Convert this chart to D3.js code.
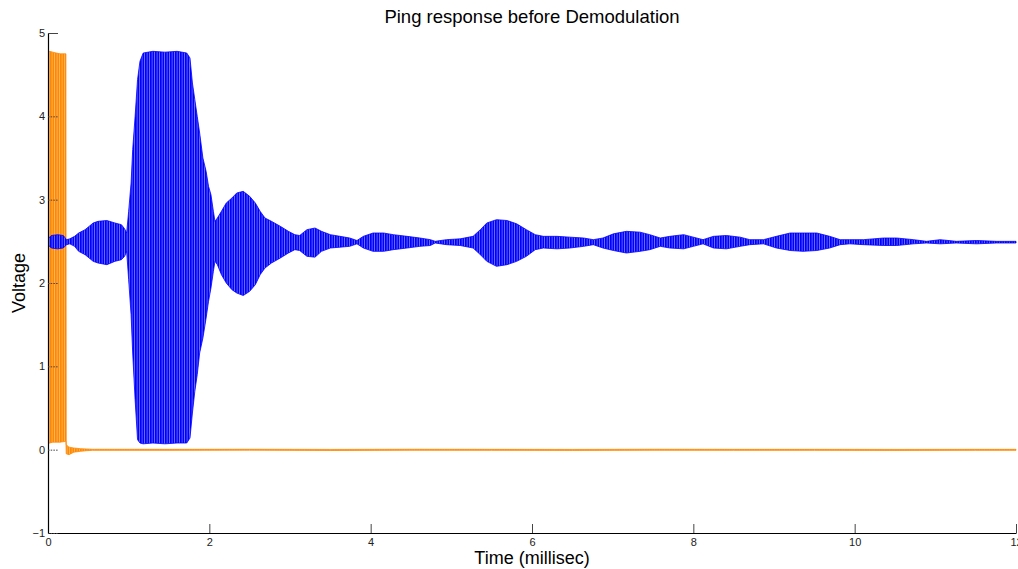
<!DOCTYPE html>
<html>
<head>
<meta charset="utf-8">
<script src="https://cdn.jsdelivr.net/npm/d3@7"></script>
<style>
  body { margin: 0; background: #fff; }
  text { font-family: "Liberation Sans", Arial, Helvetica, sans-serif; }
</style>
</head>
<body>
<svg width="1018" height="569"></svg>
<script>
// Envelope of the received echo (blue): time (ms), upper, lower (V)
var echoTime = [0.00, 0.04, 0.12, 0.19, 0.23, 0.27, 0.33, 0.38, 0.46, 0.56, 0.62, 0.73, 0.83, 0.91, 0.95, 0.975,
  1.00, 1.03, 1.05, 1.08, 1.11, 1.14, 1.18, 1.30, 1.45, 1.60, 1.72, 1.76, 1.79, 1.82, 1.85, 1.88, 1.92, 1.96, 1.99,
  2.02, 2.05, 2.07, 2.10, 2.15, 2.21, 2.28, 2.34, 2.42, 2.50, 2.57, 2.63, 2.69, 2.77, 2.88, 2.98, 3.06, 3.12, 3.21,
  3.31, 3.39, 3.50, 3.62, 3.74, 3.83, 3.91, 4.03, 4.16, 4.28, 4.45, 4.61, 4.74, 4.80, 4.94, 5.11, 5.27, 5.36, 5.44,
  5.56, 5.69, 5.81, 5.93, 6.04, 6.14, 6.31, 6.47, 6.64, 6.76, 6.88, 7.01, 7.17, 7.34, 7.46, 7.59, 7.71, 7.88, 8.00,
  8.12, 8.25, 8.41, 8.58, 8.70, 8.87, 9.03, 9.20, 9.36, 9.53, 9.69, 9.82, 9.94, 10.11, 10.36, 10.52, 10.73, 10.89,
  11.06, 11.26, 11.51, 11.76, 12.00];
var echoUpper = [2.53, 2.57, 2.58, 2.57, 2.52, 2.53, 2.56, 2.60, 2.64, 2.72, 2.74, 2.75, 2.72, 2.70, 2.65, 2.60,
  2.86, 3.20, 3.60, 4.00, 4.44, 4.66, 4.76, 4.78, 4.77, 4.78, 4.76, 4.70, 4.40, 4.20, 4.00, 3.80, 3.50, 3.34, 3.16,
  3.06, 2.86, 2.74, 2.78, 2.86, 2.96, 3.02, 3.08, 3.10, 3.04, 2.96, 2.86, 2.78, 2.74, 2.68, 2.62, 2.58, 2.57, 2.64,
  2.66, 2.62, 2.58, 2.56, 2.54, 2.51, 2.56, 2.60, 2.60, 2.58, 2.56, 2.54, 2.52, 2.50, 2.52, 2.53, 2.56, 2.64, 2.72,
  2.76, 2.75, 2.71, 2.64, 2.58, 2.56, 2.56, 2.55, 2.54, 2.52, 2.54, 2.59, 2.62, 2.61, 2.58, 2.54, 2.56, 2.58, 2.55,
  2.52, 2.56, 2.57, 2.55, 2.52, 2.52, 2.56, 2.60, 2.60, 2.60, 2.56, 2.52, 2.52, 2.52, 2.54, 2.54, 2.52, 2.50,
  2.52, 2.50, 2.51, 2.50, 2.50];
var echoLower = [2.46, 2.42, 2.41, 2.42, 2.46, 2.47, 2.44, 2.38, 2.34, 2.26, 2.24, 2.22, 2.26, 2.28, 2.32, 2.38,
  2.04, 1.62, 1.16, 0.60, 0.12, 0.08, 0.07, 0.08, 0.07, 0.08, 0.08, 0.14, 0.44, 0.70, 0.90, 1.16, 1.34, 1.58, 1.78,
  1.94, 2.14, 2.26, 2.22, 2.10, 2.00, 1.92, 1.88, 1.85, 1.90, 1.98, 2.10, 2.18, 2.24, 2.30, 2.36, 2.40, 2.39, 2.32,
  2.31, 2.38, 2.42, 2.43, 2.44, 2.47, 2.42, 2.38, 2.38, 2.40, 2.42, 2.44, 2.45, 2.48, 2.46, 2.45, 2.42, 2.34, 2.26,
  2.20, 2.22, 2.26, 2.32, 2.40, 2.42, 2.41, 2.42, 2.44, 2.46, 2.42, 2.39, 2.36, 2.38, 2.40, 2.44, 2.42, 2.41, 2.44,
  2.47, 2.42, 2.41, 2.44, 2.46, 2.47, 2.42, 2.39, 2.38, 2.39, 2.42, 2.46, 2.47, 2.46, 2.45, 2.45, 2.47, 2.48,
  2.47, 2.48, 2.47, 2.48, 2.48];

// Transmitted ping (orange): burst, ringing, then flat
var pingTime  = [0.00, 0.02, 0.06, 0.10, 0.15, 0.222, 0.226, 0.26, 0.32, 0.40, 0.48, 0.55, 1.5, 2.5, 3.5, 4.5, 5.5,
  6.5, 7.5, 8.5, 9.5, 10.5, 11.5, 12.0];
var pingUpper = [4.76, 4.78, 4.77, 4.76, 4.75, 4.75, 0.06, 0.03, 0.02, 0.012, 0.008, 0.005, 0.004, 0.005, 0.003,
  0.005, 0.004, 0.003, 0.005, 0.004, 0.004, 0.003, 0.004, 0.004];
var pingLower = [0.07, 0.08, 0.09, 0.09, 0.09, 0.10, -0.05, -0.06, -0.03, -0.02, -0.012, -0.008, -0.008, -0.006,
  -0.01, -0.007, -0.008, -0.009, -0.007, -0.008, -0.008, -0.009, -0.008, -0.008];

var xTicks = [0, 2, 4, 6, 8, 10, 12];
var yTicks = [-1, 0, 1, 2, 3, 4, 5];

var svg = d3.select("svg"),
  width = +svg.attr("width"),
  height = +svg.attr("height");

var x = d3.scaleLinear().domain([0, 12]).range([48, 1016]);
var y = d3.scaleLinear().domain([-1, 5]).range([533, 33]);

var defs = svg.append("defs");
defs.append("clipPath").attr("id", "plotClip")
  .append("rect").attr("x", 48).attr("y", 28).attr("width", 970).attr("height", 506);

// striped fills to mimic the dense carrier lines
function stripes(id, solid, light) {
  var p = defs.append("pattern").attr("id", id)
    .attr("patternUnits", "userSpaceOnUse").attr("width", 2.5).attr("height", 10);
  p.append("rect").attr("width", 2.5).attr("height", 10).attr("fill", solid);
  p.append("rect").attr("x", 1.8).attr("width", 0.7).attr("height", 10).attr("fill", light);
}
stripes("blueStripes", "#0000ff", "#8c8cff");
stripes("orangeStripes", "#ff8800", "#ffc27a");

function band(time, upper, lower) {
  return d3.area()
    .x(function (d, i) { return x(time[i]); })
    .y0(function (d, i) { return y(lower[i]); })
    .y1(function (d, i) { return y(upper[i]); })(time);
}

var plot = svg.append("g").attr("clip-path", "url(#plotClip)");

plot.append("path")
  .attr("d", band(pingTime, pingUpper, pingLower))
  .attr("fill", "url(#orangeStripes)")
  .attr("stroke", "#ff8800")
  .attr("stroke-width", 0.8);

plot.append("path")
  .attr("d", band(echoTime, echoUpper, echoLower))
  .attr("fill", "url(#blueStripes)")
  .attr("stroke", "#0000ff")
  .attr("stroke-width", 0.8);

// Axes (ticks point inward, MATLAB style)
var xAxis = svg.append("g")
  .attr("transform", "translate(0," + y(-1) + ")")
  .call(d3.axisBottom(x).tickValues(xTicks).tickSize(-9).tickSizeOuter(0).tickPadding(5));

var yAxis = svg.append("g")
  .attr("transform", "translate(" + x(0) + ",0)")
  .call(d3.axisLeft(y).tickValues(yTicks).tickSize(-10).tickSizeOuter(0).tickPadding(3)
    .tickFormat(function (d) { return d < 0 ? "\u2212" + Math.abs(d) : d; }));

[xAxis, yAxis].forEach(function (a) {
  a.select(".domain").attr("stroke", "#000").attr("stroke-width", 1.2);
  a.selectAll("text").attr("font-size", 11).attr("fill", "#222")
    .style("font-family", "'Liberation Sans', Arial, sans-serif");
  a.selectAll(".tick line").attr("stroke", "#444");
});
yAxis.selectAll(".tick line")
  .attr("stroke-dasharray", function (d) { return d === 5 ? null : "1.5,1.2"; });

// Title and labels
svg.append("text")
  .attr("x", 532).attr("y", 23)
  .attr("text-anchor", "middle")
  .attr("font-size", 18.5)
  .text("Ping response before Demodulation");

svg.append("text")
  .attr("x", 532).attr("y", 564)
  .attr("text-anchor", "middle")
  .attr("font-size", 18)
  .text("Time (millisec)");

svg.append("text")
  .attr("transform", "translate(25,283) rotate(-90)")
  .attr("text-anchor", "middle")
  .attr("font-size", 18)
  .text("Voltage");
</script>
</body>
</html>
